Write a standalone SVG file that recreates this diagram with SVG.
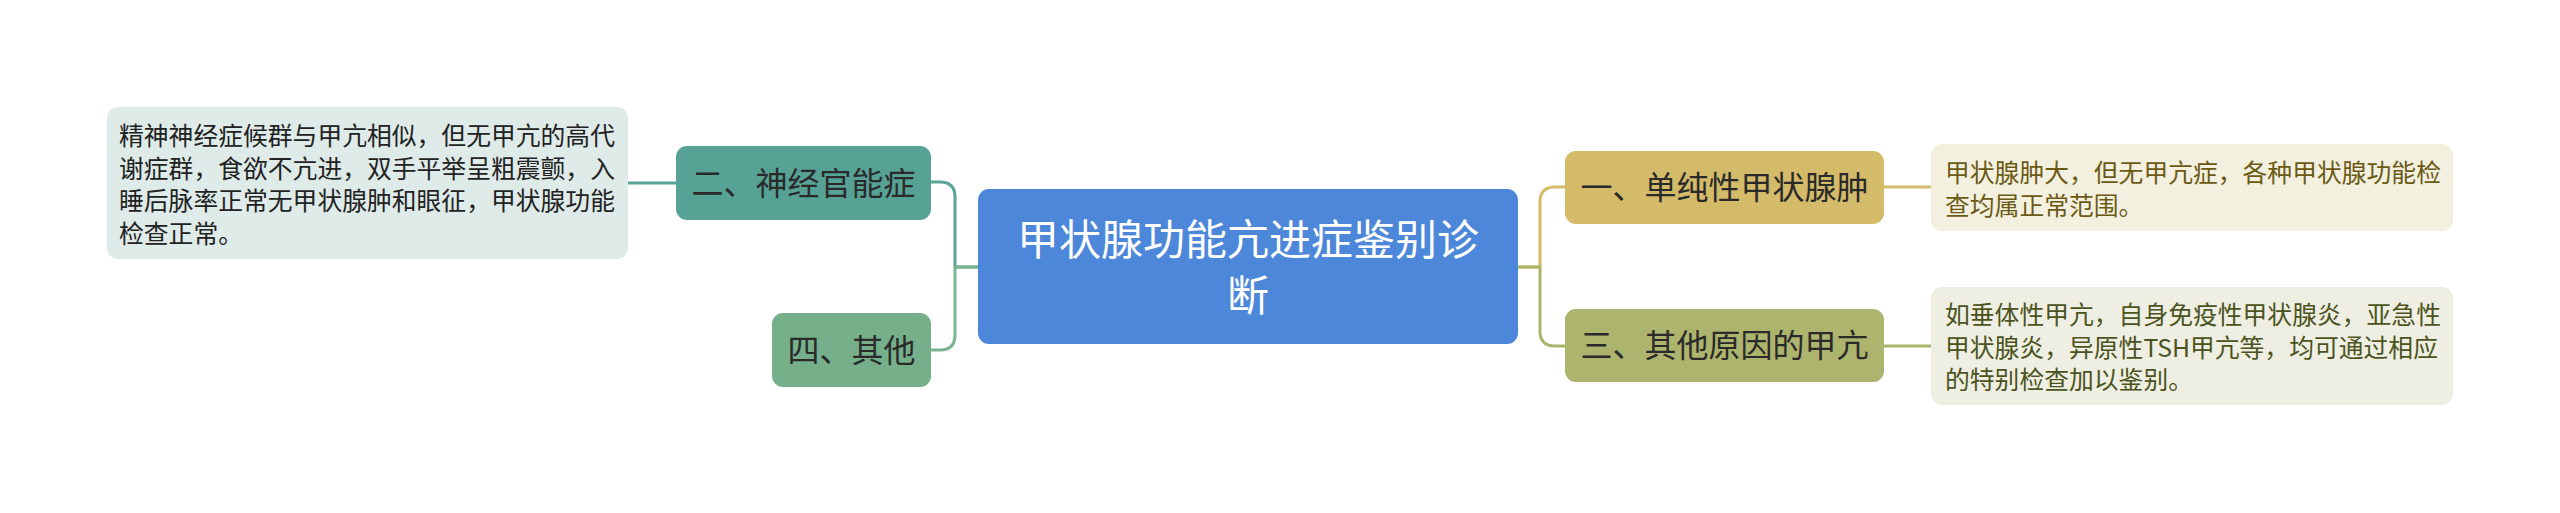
<svg xmlns="http://www.w3.org/2000/svg" width="2560" height="513" viewBox="0 0 2560 513">
<style>
text{font-family:"Noto Sans CJK SC","Noto Sans",sans-serif;}
.c{fill:none;stroke-width:3;stroke-linecap:round;stroke-linejoin:round}
.node text{font-size:32px;fill:#2a2a2a;text-anchor:middle}
.leaf text{font-size:24.8px}
.root text{font-size:42px;fill:#ffffff;text-anchor:middle}
</style>
<rect width="2560" height="513" fill="#ffffff"/>
<g id="connectors">
<path class="c" stroke="#5aa397" d="M978,267 H955 V197 Q955,182 940,182 H931"/>
<path class="c" stroke="#79b48e" d="M978,267 H955 V335 Q955,350 940,350 H931"/>
<path class="c" stroke="#5aa397" d="M676,183 H628"/>
<path class="c" stroke="#d3bc6c" d="M1518,267 H1540 V202 Q1540,187 1555,187 H1565"/>
<path class="c" stroke="#abb46b" d="M1518,267 H1540 V331 Q1540,346 1555,346 H1565"/>
<path class="c" stroke="#d3bc6c" d="M1884,187 H1931"/>
<path class="c" stroke="#abb46b" d="M1884,346 H1931"/>
</g>
<g id="root" class="root">
<rect x="978" y="189" width="540" height="155" rx="11" fill="#4d87d9"/>
<text x="1248" y="255">甲状腺功能亢进症鉴别诊</text>
<text x="1248" y="311">断</text>
</g>
<g id="n2" class="node">
<rect x="676" y="146" width="255" height="74" rx="11" fill="#56a295"/>
<text x="803.5" y="195">二、神经官能症</text>
</g>
<g id="n4" class="node">
<rect x="772" y="313" width="159" height="74" rx="11" fill="#75b08a"/>
<text x="851.5" y="362">四、其他</text>
</g>
<g id="n1" class="node">
<rect x="1565" y="151" width="319" height="73" rx="11" fill="#d4bb69"/>
<text x="1724.5" y="199">一、单纯性甲状腺肿</text>
</g>
<g id="n3" class="node">
<rect x="1565" y="309" width="319" height="73" rx="11" fill="#adb46d"/>
<text x="1724.5" y="357">三、其他原因的甲亢</text>
</g>
<g id="leaf2" class="leaf">
<rect x="107" y="107" width="521" height="152" rx="11" fill="#deebe9"/>
<text x="119" y="145" fill="#222222">精神神经症候群与甲亢相似，但无甲亢的高代</text>
<text x="119" y="178" fill="#222222">谢症群，食欲不亢进，双手平举呈粗震颤，入</text>
<text x="119" y="210" fill="#222222">睡后脉率正常无甲状腺肿和眼征，甲状腺功能</text>
<text x="119" y="243" fill="#222222">检查正常。</text>
</g>
<g id="leaf1" class="leaf">
<rect x="1931" y="144" width="522" height="87" rx="11" fill="#f4f0e0"/>
<text x="1945" y="182" fill="#6b5a14">甲状腺肿大，但无甲亢症，各种甲状腺功能检</text>
<text x="1945" y="215" fill="#6b5a14">查均属正常范围。</text>
</g>
<g id="leaf3" class="leaf">
<rect x="1931" y="287" width="522" height="118" rx="11" fill="#eeeee2"/>
<text x="1945" y="324" fill="#4b5320">如垂体性甲亢，自身免疫性甲状腺炎，亚急性</text>
<text x="1945" y="357" fill="#4b5320">甲状腺炎，异原性TSH甲亢等，均可通过相应</text>
<text x="1945" y="389" fill="#4b5320">的特别检查加以鉴别。</text>
</g>
</svg>
